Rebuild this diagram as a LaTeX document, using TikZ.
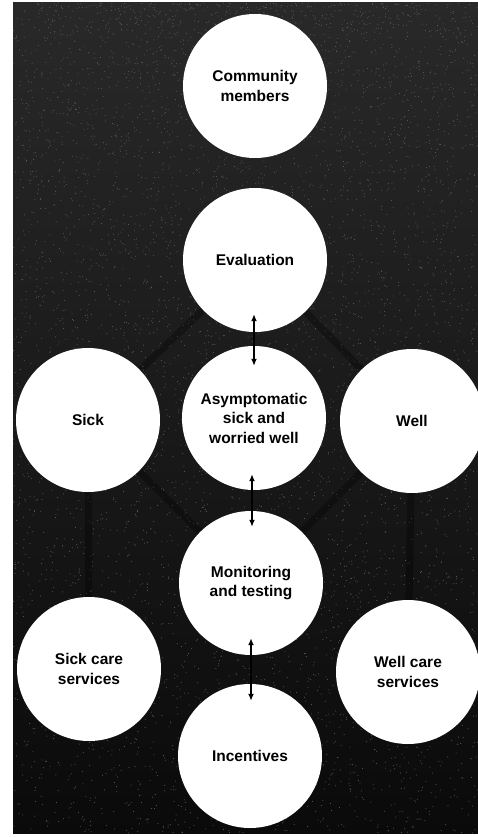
\documentclass[tikz,border=0pt]{standalone}
\usepackage{fontspec}
\setmainfont{Liberation Sans}
\usetikzlibrary{arrows.meta}
\tikzset{
  bubble/.style={circle, fill=white, minimum size=144pt, inner sep=0pt,
    align=center, font=\fontsize{15.5}{19.5}\selectfont\bfseries},
  link/.style={line width=2.1pt, {Latex[length=7pt,width=6pt]}-{Latex[length=7pt,width=6pt]}},
  shadowline/.style={line width=7pt, black, opacity=0.3, line cap=round}
}
\begin{document}
\begin{tikzpicture}[x=1pt, y=-1pt]
  \useasboundingbox (0,0) rectangle (478,837);
  \fill[white] (0,0) rectangle (478,837);
  \begin{scope}
    \clip (13,3) rectangle (478,833);
    % dark printed ground
    \shade[top color=black!84, bottom color=black!96] (13,3) rectangle (478,833);
    % fine grain of the printed ground
    \pgfmathsetseed{7}
    \foreach \i in {1,...,6000} {
      \pgfmathsetmacro{\px}{13+465*rnd}
      \pgfmathsetmacro{\py}{3+830*rnd^1.3}
      \fill[black!62] (\px,\py) circle (0.5pt);
    }
    % faint hidden links between the circles
    \coordinate (e0) at (255,260);
    \coordinate (s0) at (88,420);
    \coordinate (w0) at (412,421);
    \coordinate (m0) at (251,583);
    \coordinate (sc0) at (89,669);
    \coordinate (wc0) at (408,672);
    \draw[shadowline] (e0) -- (s0);
    \draw[shadowline] (e0) -- (w0);
    \draw[shadowline] (s0) -- (sc0);
    \draw[shadowline] (w0) -- (wc0);
    \draw[shadowline] (s0) -- (m0);
    \draw[shadowline] (w0) -- (m0);

    % circles
    \node[bubble] (comm) at (255,86) {Community\\members};
    \node[bubble] (eval) at (255,260) {Evaluation};
    \node[bubble] (asym) at (254,418) {Asymptomatic\\sick and\\worried well};
    \node[bubble] (sick) at (88,420) {Sick};
    \node[bubble] (well) at (412,421) {Well};
    \node[bubble] (mon) at (251,583) {Monitoring\\and testing};
    \node[bubble] (sickc) at (89,669) {Sick care\\services};
    \node[bubble] (wellc) at (408,672) {Well care\\services};
    \node[bubble] (inc) at (250,756) {Incentives};

    % two-way arrows down the middle
    \draw[link] ([xshift=-1pt,yshift=18pt]eval.south) -- ([yshift=-20pt]asym.north);
    \draw[link] ([xshift=-2pt,yshift=16pt]asym.south) -- ([xshift=1pt,yshift=-16pt]mon.north);
    \draw[link] ([yshift=17pt]mon.south) -- ([xshift=1pt,yshift=-17pt]inc.north);
  \end{scope}
\end{tikzpicture}
\end{document}
